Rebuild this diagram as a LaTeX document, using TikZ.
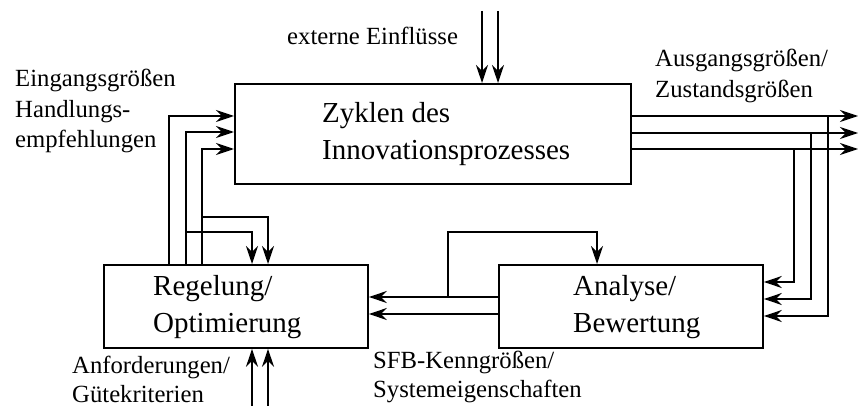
\documentclass[tikz,border=0pt]{standalone}
\usepackage{fontspec}
\setmainfont{Liberation Serif}
\usetikzlibrary{arrows.meta}

\tikzset{
  x=1pt, y=-1pt,
  blockbox/.style={draw, line width=1.8pt, inner sep=0pt},
  boxtext/.style={anchor=base west, inner sep=0pt, font=\fontsize{29}{34}\selectfont},
  labeltext/.style={anchor=base west, inner sep=0pt, font=\fontsize{24.7}{30}\selectfont},
  flow/.style={line width=1.8pt, -{Stealth[length=18pt, width=12pt, inset=6pt]}},
}

\begin{document}
\begin{tikzpicture}
\useasboundingbox (0,0) rectangle (858,406);

% blocks
\node[blockbox, minimum width=396pt, minimum height=100pt, anchor=north west] (zyk) at (234,83) {};
\node[blockbox, minimum width=264pt, minimum height=83pt, anchor=north west] (reg) at (103,264) {};
\node[blockbox, minimum width=264pt, minimum height=83pt, anchor=north west] (ana) at (498,264) {};

% block texts
\node[boxtext] (zyk1) at (322,123) {Zyklen des};
\node[boxtext] (zyk2) at (322,160) {Innovationsprozesses};
\node[boxtext] (reg1) at (153,295) {Regelung/};
\node[boxtext] (reg2) at (153,332) {Optimierung};
\node[boxtext] (ana1) at (573,295) {Analyse/};
\node[boxtext] (ana2) at (573,332) {Bewertung};

% labels
\node[labeltext] (ext) at (287,45) {externe Einflüsse};
\node[labeltext] (ein1) at (15,87) {Eingangsgrößen};
\node[labeltext] (ein2) at (15,118) {Handlungs-};
\node[labeltext] (ein3) at (15,148) {empfehlungen};
\node[labeltext] (aus1) at (655,67) {Ausgangsgrößen/};
\node[labeltext] (aus2) at (655,98) {Zustandsgrößen};
\node[labeltext] (anf1) at (72,373) {Anforderungen/};
\node[labeltext] (anf2) at (72,402) {Gütekriterien};
\node[labeltext] (sfb1) at (373,368) {SFB-Kenngrößen/};
\node[labeltext] (sfb2) at (373,397) {Systemeigenschaften};

% free ends
\coordinate (e1) at (482,11);
\coordinate (e2) at (498,11);
\coordinate (g1) at (252,406);
\coordinate (g2) at (268,406);
\coordinate (o1) at (858,116);
\coordinate (o2) at (858,133);
\coordinate (o3) at (858,149);

% external influences into the process
\draw[flow] (e1) -- (e1 |- zyk.north);
\draw[flow] (e2) -- (e2 |- zyk.north);

% requirements into the controller
\draw[flow] (g1) -- (g1 |- reg.south);
\draw[flow] (g2) -- (g2 |- reg.south);

% controller outputs into the process
\draw[flow] (reg.north -| 169,0) |- (zyk.west |- 0,116);
\draw[flow] (reg.north -| 186,0) |- (zyk.west |- 0,132);
\draw[flow] (reg.north -| 202,0) |- (zyk.west |- 0,149);
\draw[flow] (186,232) -| (reg.north -| 252,0);
\draw[flow] (202,217) -| (reg.north -| 268,0);

% process outputs
\draw[flow] (zyk.east |- o1) -- (o1);
\draw[flow] (zyk.east |- o2) -- (o2);
\draw[flow] (zyk.east |- o3) -- (o3);
\draw[flow] (828,116) |- (ana.east |- 0,316);
\draw[flow] (811,133) |- (ana.east |- 0,299);
\draw[flow] (794,149) |- (ana.east |- 0,282);

% evaluation results back to the controller
\draw[flow] (ana.west |- 0,297) -- (reg.east |- 0,297);
\draw[flow] (ana.west |- 0,314) -- (reg.east |- 0,314);
\draw[flow] (448,297) -- (448,232) -| (ana.north -| 597,0);
\end{tikzpicture}
\end{document}
